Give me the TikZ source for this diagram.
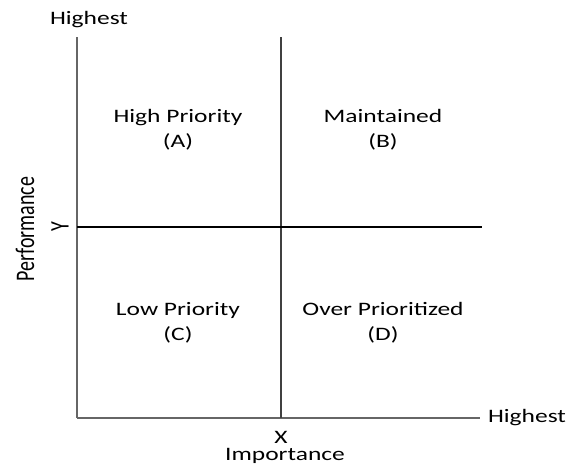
\documentclass[tikz,border=0pt]{standalone}
\usepackage{fontspec}
\setmainfont{Carlito}[FakeStretch=1.34]
\newfontfamily\uprightfont{Carlito}
\begin{document}
\begin{tikzpicture}[x=1pt,y=-1pt,label node/.style={font=\fontsize{19}{25}\selectfont,inner sep=0pt,align=center},side node/.style={font=\uprightfont\fontsize{20}{25}\selectfont,inner sep=0pt,rotate=90},axis line/.style={draw=black!60,line width=1.2pt},mid line/.style={line width=1.8pt}]
  \useasboundingbox (0,0) rectangle (568,466);
  \coordinate (top) at (77,37);
  \coordinate (origin) at (77,418);
  \coordinate (right) at (480,418);
  \coordinate (midtop) at (281,37);
  \coordinate (midbot) at (281,418);
  \coordinate (midleft) at (77,227);
  \coordinate (midright) at (482,227);

  \node[label node] (yhigh) at (89,20) {Highest};
  \node[label node] (xhigh) at (527,418) {Highest};
  \node[label node] (x) at (281,437) {X};
  \node[label node] (imp) at (285,456) {Importance};
  \node[side node] (y) at (60,227) {\scalebox{1}[1.34]{Y}};
  \node[side node] (perf) at (25,229) {\scalebox{1}[1.34]{Performance}};

  \node[label node] (A) at (178,130) {High Priority\\(A)};
  \node[label node] (B) at (383,130) {Maintained\\(B)};
  \node[label node] (C) at (178,323) {Low Priority\\(C)};
  \node[label node] (D) at (383,323) {Over Prioritized\\(D)};

\path
  (top) edge[axis line] (origin)
  (origin) edge[axis line] (right)
  (midtop) edge[mid line,draw=black!75] (midbot)
  (midleft) edge[mid line,draw=black] (midright)
;
\end{tikzpicture}
\end{document}
